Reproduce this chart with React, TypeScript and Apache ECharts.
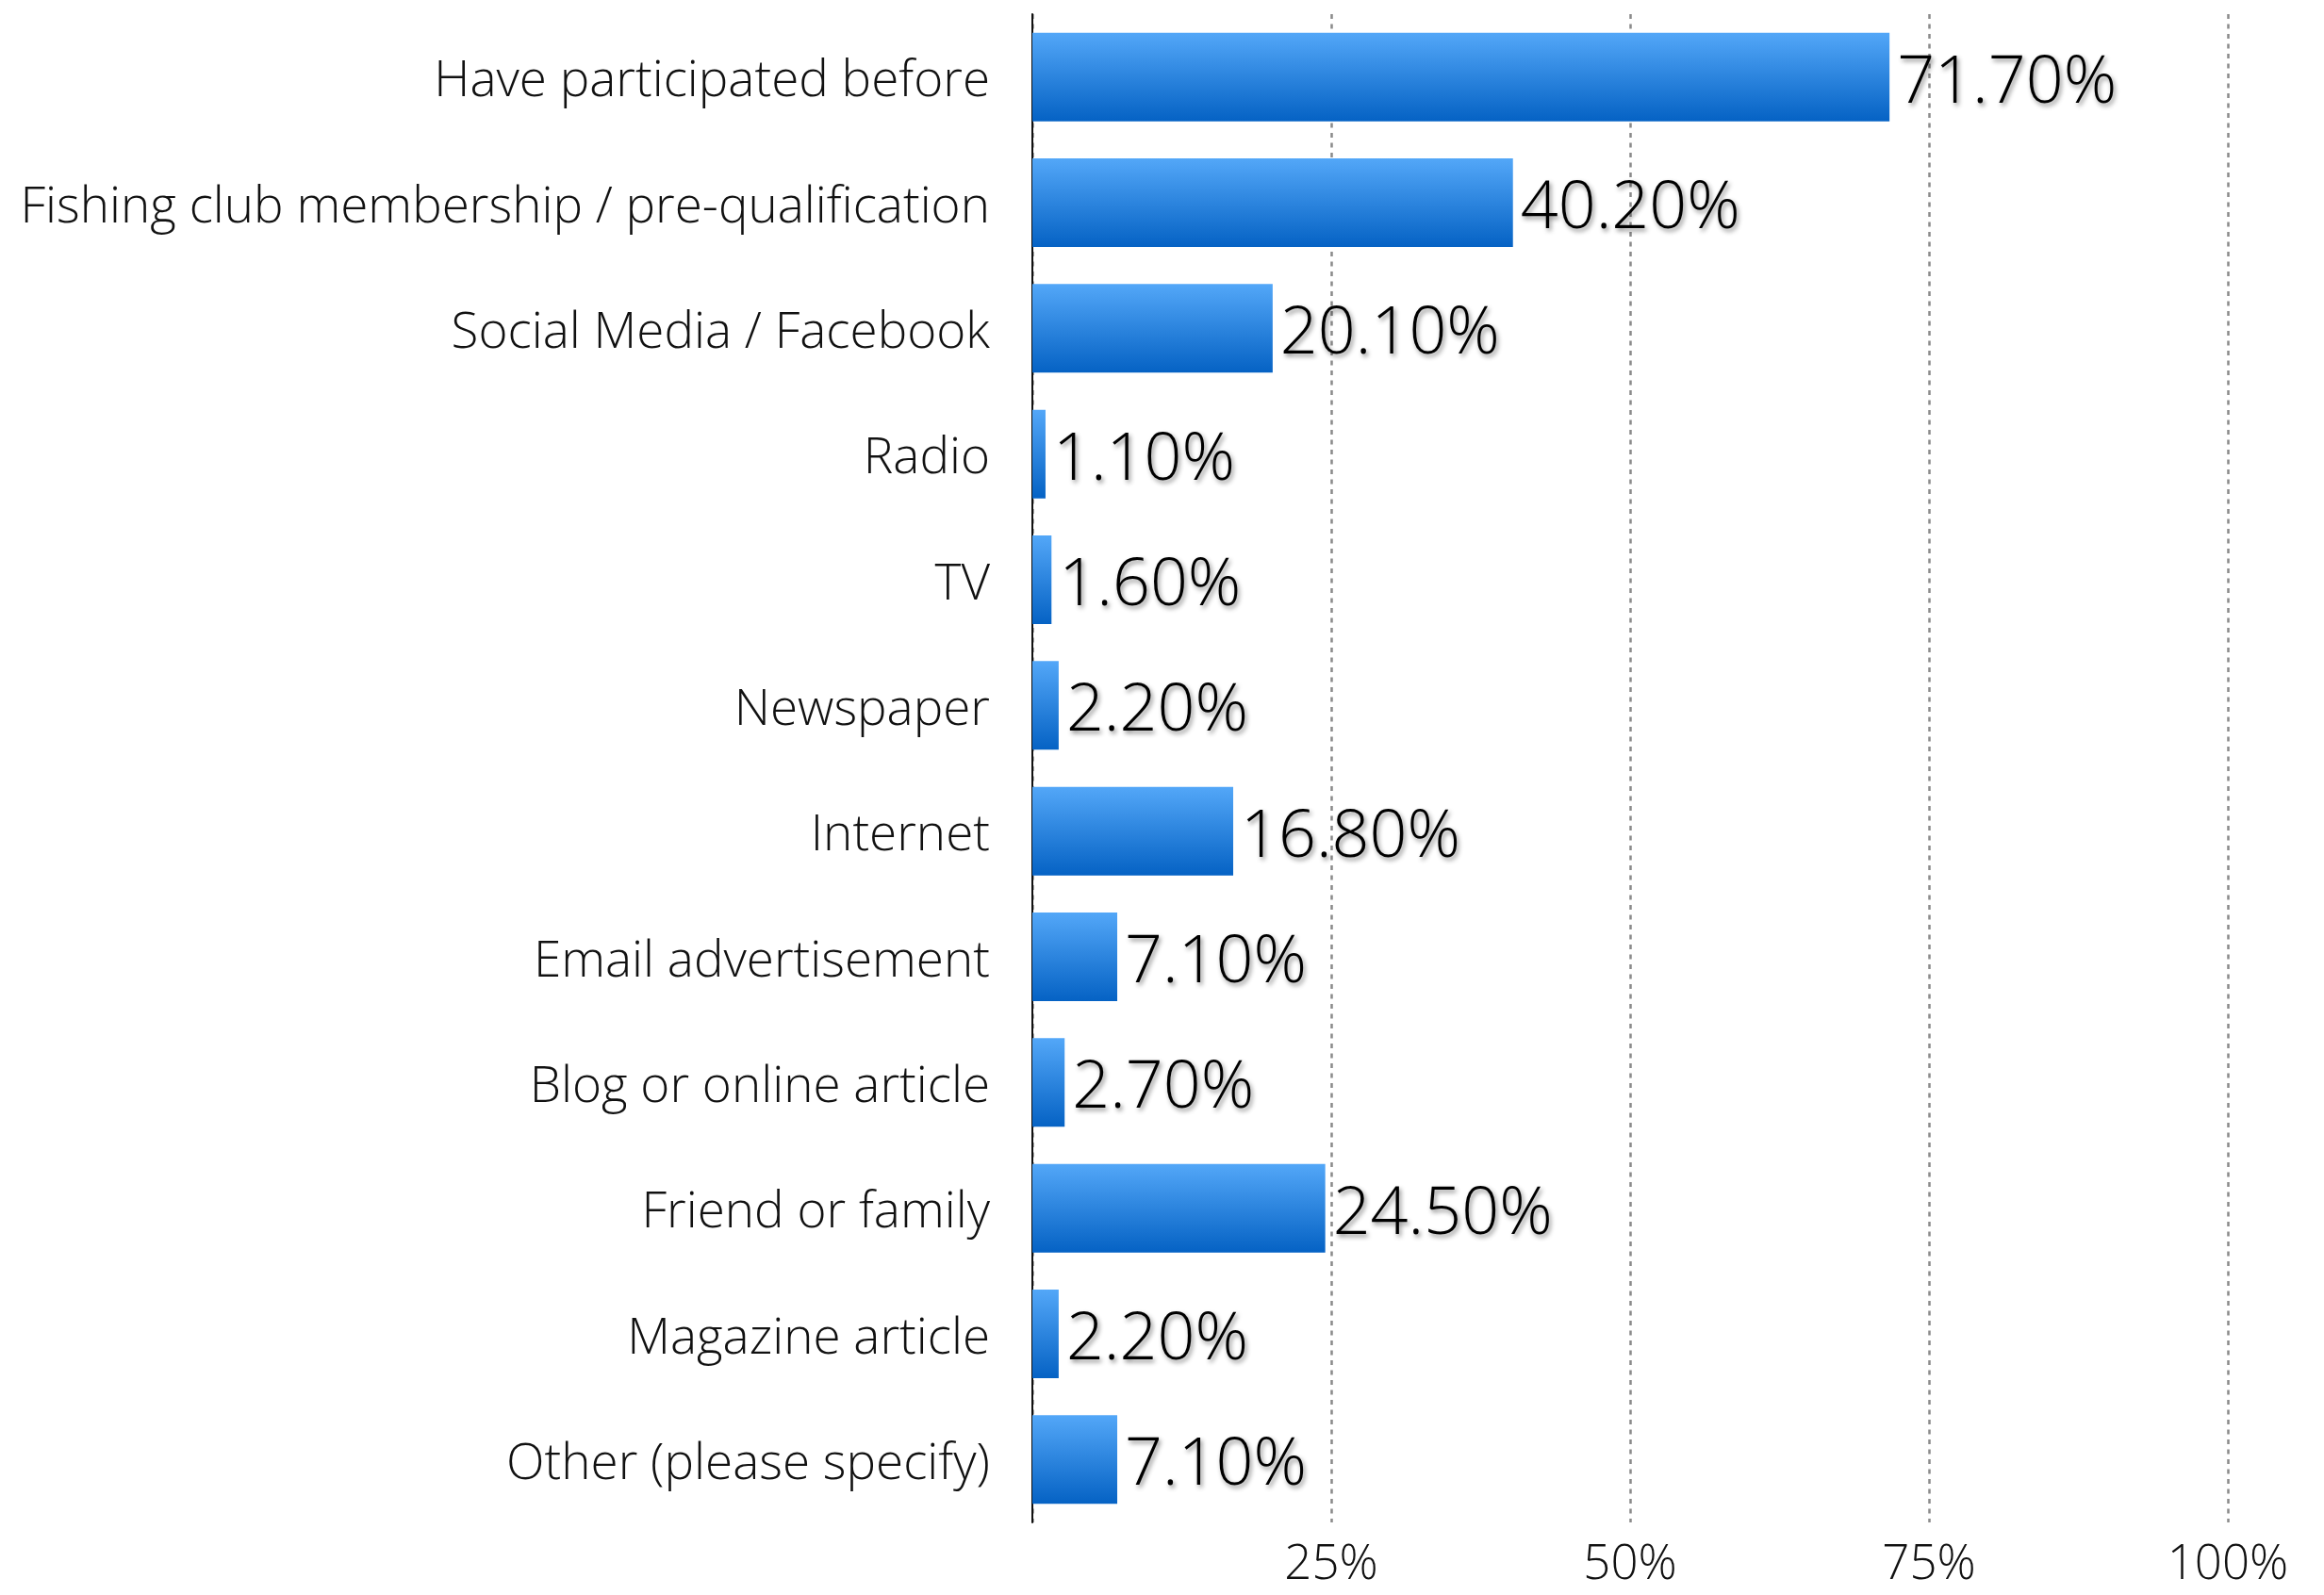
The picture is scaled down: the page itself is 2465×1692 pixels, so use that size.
import React, { useEffect, useRef } from "react";
import * as echarts from "echarts";

const categories: string[] = [
  "Have participated before",
  "Fishing club membership / pre-qualification",
  "Social Media / Facebook",
  "Radio",
  "TV",
  "Newspaper",
  "Internet",
  "Email advertisement",
  "Blog or online article",
  "Friend or family",
  "Magazine article",
  "Other (please specify)",
];

const values: number[] = [71.7, 40.2, 20.1, 1.1, 1.6, 2.2, 16.8, 7.1, 2.7, 24.5, 2.2, 7.1];

const xTicks: number[] = [0, 25, 50, 75, 100];

const FONT = "'Open Sans', Roboto, 'Liberation Sans', sans-serif";

export default function App() {
  const ref = useRef<HTMLDivElement>(null);
  useEffect(() => {
    if (!ref.current) return;
    const chart = echarts.init(ref.current, undefined, { renderer: "svg" });
    chart.setOption({
      animation: false,
      backgroundColor: "#ffffff",
      grid: {
        left: 1095,
        right: 102,
        top: 15,
        height: 1600,
        containLabel: false,
        outerBoundsMode: "none",
      },
      xAxis: {
        type: "value",
        min: xTicks[0],
        max: xTicks[xTicks.length - 1],
        interval: 25,
        axisLine: { show: false },
        axisTick: { show: false },
        splitLine: {
          show: true,
          lineStyle: { color: "#8a8a8a", width: 2.5, type: [5, 5.5] },
        },
        axisLabel: {
          margin: 40,
          verticalAlign: "middle",
          fontFamily: FONT,
          fontWeight: 300,
          fontSize: 51,
          lineHeight: 51,
          color: "#111",
          formatter: (v: number) => (v === 0 ? "" : v + "%"),
        },
      },
      yAxis: {
        type: "category",
        data: categories,
        inverse: true,
        axisTick: { show: false },
        axisLine: { show: true, lineStyle: { color: "#111", width: 2 } },
        axisLabel: {
          margin: 45,
          fontFamily: FONT,
          fontWeight: 300,
          fontSize: 53,
          color: "#111",
        },
      },
      series: [
        {
          type: "bar",
          data: values,
          barWidth: "70.5%",
          itemStyle: {
            color: new echarts.graphic.LinearGradient(0, 0, 0, 1, [
              { offset: 0, color: "#53a7f8" },
              { offset: 1, color: "#0562c4" },
            ]),
          },
          label: {
            show: true,
            position: "right",
            distance: 8,
            fontFamily: FONT,
            fontWeight: 300,
            fontSize: 70,
            color: "#000",
            textShadowColor: "rgba(0,0,0,0.45)",
            textShadowBlur: 5,
            textShadowOffsetX: 2,
            textShadowOffsetY: 3,
            formatter: (p: any) => p.value.toFixed(2) + "%",
          },
        },
      ],
    });
    return () => chart.dispose();
  }, []);
  return (
    <div
      ref={ref}
      style={{ position: "absolute", left: 0, top: 0, width: 2465, height: 1692 }}
    />
  );
}
